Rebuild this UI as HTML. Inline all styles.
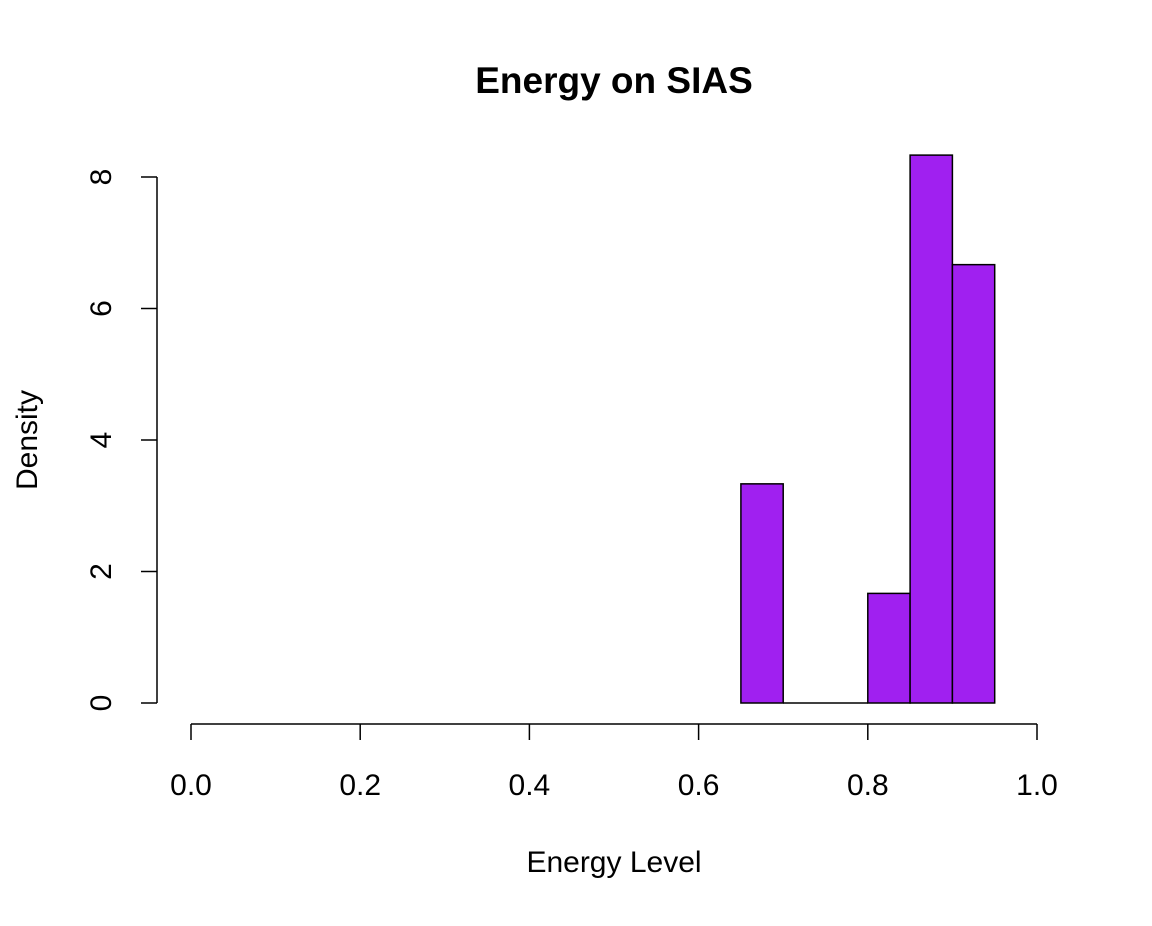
<!DOCTYPE html>
<html><head><meta charset="utf-8"><style>
body{margin:0;background:#fff}
svg text{font-family:"Liberation Sans",Arial,sans-serif;fill:#000}
</style></head><body>
<svg id="chart" width="1152" height="921" viewBox="0 0 1152 921">
<text x="614" y="93" font-size="37" font-weight="bold" text-anchor="middle">Energy on SIAS</text>
<text x="614" y="872" font-size="30" text-anchor="middle">Energy Level</text>
<text transform="translate(37,440) rotate(-90)" font-size="30" text-anchor="middle">Density</text>
<g id="bars"></g>
<g id="xaxis"></g>
<g id="yaxis"></g>
</svg>
<script>
const binStarts=[0.65,0.70,0.75,0.80,0.85,0.90];
const densities=[3.333,0,0,1.667,8.333,6.667];
const binWidth=0.05;
const xTicks=[0,0.2,0.4,0.6,0.8,1.0];
const xTickLabels=["0.0","0.2","0.4","0.6","0.8","1.0"];
const yTicks=[0,2,4,6,8];
const yTickLabels=["0","2","4","6","8"];
const NS="http://www.w3.org/2000/svg";
const sx=v=>191+v*846;
const sy=v=>703-v*65.75;
function mk(tag,attrs,parent){const e=document.createElementNS(NS,tag);for(const k in attrs)e.setAttribute(k,attrs[k]);parent.appendChild(e);return e;}
const bars=document.getElementById('bars');
binStarts.forEach((b,i)=>{
  const x0=sx(b),x1=sx(b+binWidth),y=sy(densities[i]);
  let r;
  if(densities[i]>0){
    r=mk('rect',{x:x0,y:y,width:x1-x0,height:sy(0)-y,fill:'#A020F0',stroke:'#000','stroke-width':1.5},bars);
  }else{
    r=mk('line',{x1:x0,x2:x1,y1:y,y2:y,stroke:'#000','stroke-width':1.5},bars);
  }
  
  
});
const xa=document.getElementById('xaxis');
const xl=mk('line',{x1:sx(0),x2:sx(1),y1:724,y2:724,stroke:'#000','stroke-width':1.5},xa);


xTicks.forEach((t,i)=>{
  mk('line',{x1:sx(t),x2:sx(t),y1:724,y2:740,stroke:'#000','stroke-width':1.5},xa);
  const tx=mk('text',{x:sx(t),y:795,'font-size':30,'text-anchor':'middle'},xa);
  tx.textContent=xTickLabels[i];
  
  
});
const ya=document.getElementById('yaxis');
const yl=mk('line',{x1:157,x2:157,y1:sy(0),y2:sy(8),stroke:'#000','stroke-width':1.5},ya);


yTicks.forEach((t,i)=>{
  mk('line',{x1:141,x2:157,y1:sy(t),y2:sy(t),stroke:'#000','stroke-width':1.5},ya);
  const tx=mk('text',{transform:`translate(111,${sy(t)}) rotate(-90)`,'font-size':30,'text-anchor':'middle'},ya);
  tx.textContent=yTickLabels[i];
  
  
});
</script>
</body></html>
